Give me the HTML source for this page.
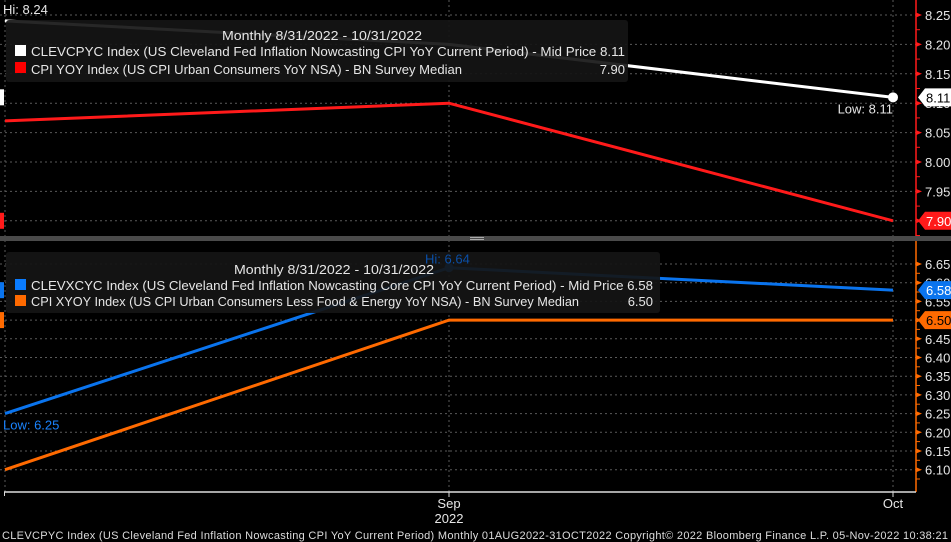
<!DOCTYPE html>
<html><head><meta charset="utf-8"><style>
html,body{margin:0;padding:0;background:#000;}
svg{display:block;font-family:"Liberation Sans",sans-serif;}
</style></head><body>
<svg id="chart" width="951" height="542" viewBox="0 0 951 542">
<rect width="951" height="542" fill="#000"/>
<g id="grid"></g>
<g id="series"></g>
<g id="axes"></g>
<g>
<rect x="6" y="20" width="622" height="62" rx="3" fill="#151515" opacity="0.92"/>
<text x="322" y="40" fill="#e6e6e6" font-size="13" text-anchor="middle" textLength="200" lengthAdjust="spacingAndGlyphs">Monthly 8/31/2022 - 10/31/2022</text>
<rect x="15" y="45" width="11" height="11" fill="#fff"/>
<text x="31" y="56" fill="#e6e6e6" font-size="13" textLength="594" lengthAdjust="spacingAndGlyphs">CLEVCPYC Index (US Cleveland Fed Inflation Nowcasting CPI YoY Current Period) - Mid Price 8.11</text>
<rect x="15" y="62" width="11" height="11" fill="#f00"/>
<text x="31" y="74" fill="#e6e6e6" font-size="13" textLength="431" lengthAdjust="spacingAndGlyphs">CPI YOY Index (US CPI Urban Consumers YoY NSA) - BN Survey Median</text>
<text x="625" y="74" fill="#e6e6e6" font-size="13" text-anchor="end">7.90</text>
</g>
<g>
<rect x="6" y="252" width="654" height="61" rx="3" fill="#151515" opacity="0.92"/>
<text x="334" y="274" fill="#e6e6e6" font-size="13" text-anchor="middle" textLength="200" lengthAdjust="spacingAndGlyphs">Monthly 8/31/2022 - 10/31/2022</text>
<rect x="15" y="279" width="11" height="11" fill="#0a7cff"/>
<text x="31" y="290" fill="#e6e6e6" font-size="13" textLength="622" lengthAdjust="spacingAndGlyphs">CLEVXCYC Index (US Cleveland Fed Inflation Nowcasting Core CPI YoY Current Period) - Mid Price 6.58</text>
<rect x="15" y="295" width="11" height="11" fill="#ff6a00"/>
<text x="31" y="306" fill="#e6e6e6" font-size="13" textLength="548" lengthAdjust="spacingAndGlyphs">CPI XYOY Index (US CPI Urban Consumers Less Food &amp; Energy YoY NSA) - BN Survey Median</text>
<text x="653" y="306" fill="#e6e6e6" font-size="13" text-anchor="end">6.50</text>
</g>
<g id="labels"></g>
<text x="2" y="539" fill="#dcdcdc" font-size="11" textLength="946" lengthAdjust="spacing">CLEVCPYC Index (US Cleveland Fed Inflation Nowcasting CPI YoY Current Period)  Monthly 01AUG2022-31OCT2022     Copyright© 2022 Bloomberg Finance L.P.     05-Nov-2022 10:38:21</text>
</svg>
<script>
const months = ["Aug", "Sep", "Oct"];
const xTickLabels = ["Sep", "Oct"];
const clevcpyc = [8.24, 8.20, 8.11];
const cpiYoy = [8.07, 8.10, 7.90];
const clevxcyc = [6.25, 6.64, 6.58];
const cpiXyoy = [6.10, 6.50, 6.50];
const topTicks = [8.25, 8.20, 8.15, 8.10, 8.05, 8.00, 7.95, 7.90];
const botTicks = [6.65, 6.60, 6.55, 6.50, 6.45, 6.40, 6.35, 6.30, 6.25, 6.20, 6.15, 6.10];

const NS = "http://www.w3.org/2000/svg";
function mk(tag, attrs, parent, txt){
  const e = document.createElementNS(NS, tag);
  for (const k in attrs) e.setAttribute(k, attrs[k]);
  if (txt !== undefined) e.textContent = txt;
  parent.appendChild(e);
  return e;
}
const xOf = i => 5 + i * 444;
const yTop = v => 15 + (8.25 - v) / 0.05 * 29.4;
const yBot = v => 264 + (6.65 - v) / 0.05 * 18.7;
const grid = document.getElementById("grid");
const series = document.getElementById("series");
const axes = document.getElementById("axes");
const labels = document.getElementById("labels");
const AX = 916;

topTicks.forEach(t => {
  const l = mk("line", {x1: 0, x2: AX, y1: yTop(t), y2: yTop(t), stroke: "#5a5a5a", "stroke-dasharray": "2,3"}, grid);
  
  
});
botTicks.forEach(t => {
  const l = mk("line", {x1: 0, x2: AX, y1: yBot(t), y2: yBot(t), stroke: "#5a5a5a", "stroke-dasharray": "2,3"}, grid);
  
  
});
months.forEach((m, i) => {
  const l = mk("line", {x1: xOf(i), x2: xOf(i), y1: 0, y2: 492, stroke: "#5a5a5a", "stroke-dasharray": "2,3"}, grid);
  
  
});

const div = mk("rect", {x: 0, y: 236, width: 951, height: 5, fill: "#4a4a4a"}, axes);


mk("line", {x1: 470, x2: 484, y1: 237.5, y2: 237.5, stroke: "#aaa"}, axes);
mk("line", {x1: 470, x2: 484, y1: 239.5, y2: 239.5, stroke: "#aaa"}, axes);

function drawLine(vals, yf, color, name, w){
  const pts = vals.map((v, i) => xOf(i) + "," + yf(v)).join(" ");
  const p = mk("polyline", {points: pts, fill: "none", stroke: color, "stroke-width": w}, series);
  
  
}
drawLine(cpiYoy, yTop, "#ff1a1a", "cpi-yoy-line", 3);
drawLine(clevcpyc, yTop, "#ffffff", "clevcpyc-line", 3);
drawLine(cpiXyoy, yBot, "#ff6a00", "cpi-xyoy-line", 3);
drawLine(clevxcyc, yBot, "#0a74ee", "clevxcyc-line", 3);

const d1 = mk("circle", {cx: xOf(2), cy: yTop(clevcpyc[2]), r: 5, fill: "#fff"}, series);


const d2 = mk("circle", {cx: xOf(1), cy: yBot(clevxcyc[1]), r: 4.5, fill: "#0a74ee"}, series);


const t1 = mk("text", {x: 3, y: 14, fill: "#e6e6e6", "font-size": 13}, labels, "Hi: " + clevcpyc[0].toFixed(2));


const t2 = mk("text", {x: xOf(2), y: yTop(clevcpyc[2]) + 16, fill: "#e6e6e6", "font-size": 13, "text-anchor": "end"}, labels, "Low: " + clevcpyc[2].toFixed(2));


const t3 = mk("text", {x: xOf(1) - 24, y: yBot(clevxcyc[1]) - 4, fill: "#0a4fa8", "font-size": 13}, labels, "Hi: " + clevxcyc[1].toFixed(2));


const t4 = mk("text", {x: 3, y: yBot(clevxcyc[0]) + 16, fill: "#1a84ff", "font-size": 13}, labels, "Low: " + clevxcyc[0].toFixed(2));



mk("line", {x1: AX, x2: AX, y1: 0, y2: 236, stroke: "#ff1a1a", "stroke-width": 1.5}, axes);
mk("line", {x1: AX, x2: AX, y1: 241, y2: 492, stroke: "#ff6a00", "stroke-width": 1.5}, axes);
topTicks.forEach(t => {
  const y = yTop(t);
  mk("path", {d: `M${AX},${y-2.5} L${AX+6},${y} L${AX},${y+2.5}Z`, fill: "#ff1a1a"}, axes);
  mk("line", {x1: AX, x2: AX + 4, y1: y + 14.7, y2: y + 14.7, stroke: "#ff1a1a"}, axes);
  const tx = mk("text", {x: AX + 9, y: y + 5, fill: "#e6e6e6", "font-size": 13}, axes, t.toFixed(2));
  
  
});
botTicks.forEach(t => {
  const y = yBot(t);
  mk("path", {d: `M${AX},${y-2.5} L${AX+6},${y} L${AX},${y+2.5}Z`, fill: "#ff6a00"}, axes);
  mk("line", {x1: AX, x2: AX + 4, y1: y + 9.3, y2: y + 9.3, stroke: "#ff6a00"}, axes);
  const tx = mk("text", {x: AX + 9, y: y + 5, fill: "#e6e6e6", "font-size": 13}, axes, t.toFixed(2));
  
  
});

function tag(v, yf, bg, fg, name){
  const y = yf(v);
  mk("path", {d: `M${AX+2},${y} L${AX+9},${y-9} L951,${y-9} L951,${y+9} L${AX+9},${y+9}Z`, fill: bg}, labels);
  const tx = mk("text", {x: AX + 10, y: y + 5, fill: fg, "font-size": 13}, labels, v.toFixed(2));
  
  
  mk("rect", {x: 0, y: y - 8, width: 4, height: 16, fill: bg}, labels);
}
tag(clevcpyc[2], yTop, "#ffffff", "#000", "clevcpyc-last-tag");
tag(cpiYoy[2], yTop, "#ff1a1a", "#fff", "cpi-yoy-last-tag");
tag(clevxcyc[2], yBot, "#0a74ee", "#fff", "clevxcyc-last-tag");
tag(cpiXyoy[2], yBot, "#ff6a00", "#000", "cpi-xyoy-last-tag");

mk("line", {x1: 4, x2: AX, y1: 492, y2: 492, stroke: "#ddd", "stroke-width": 1.5}, axes);
mk("line", {x1: 4.5, x2: 4.5, y1: 492, y2: 496, stroke: "#ddd"}, axes);
xTickLabels.forEach((lab, k) => {
  const x = xOf(k + 1);
  mk("line", {x1: x, x2: x, y1: 492, y2: 497, stroke: "#ddd"}, axes);
  const tx = mk("text", {x: x, y: 508, fill: "#e6e6e6", "font-size": 13, "text-anchor": "middle"}, axes, lab);
  
  
});
const yr = mk("text", {x: xOf(1), y: 523, fill: "#e6e6e6", "font-size": 13, "text-anchor": "middle"}, axes, "2022");


</script>
</body></html>
